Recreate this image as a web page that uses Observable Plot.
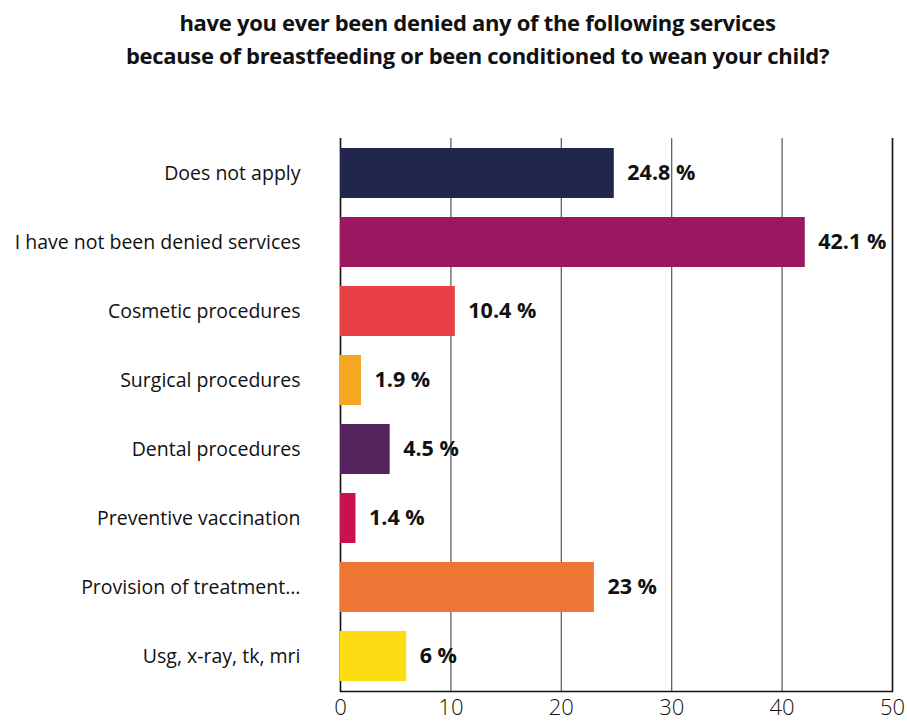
<!DOCTYPE html>
<html>
<head>
<meta charset="utf-8">
<script src="https://cdn.jsdelivr.net/npm/d3@7"></script>
<script src="https://cdn.jsdelivr.net/npm/@observablehq/plot@0.6"></script>
<style>
  html, body { margin: 0; padding: 0; background: #fff; }
  #wrap { width: 907px; position: relative; }
  #title {
    height: 80px; box-sizing: border-box; padding-top: 6px; padding-left: 48px;
    text-align: center; font-family: "Open Sans", sans-serif; font-weight: 700;
    font-size: 22px; line-height: 33px; color: #111; letter-spacing: -0.3px;
  }
</style>
</head>
<body>
<div id="wrap">
  <div id="title">have you ever been denied any of the following services<br>because of breastfeeding or been conditioned to wean your child?</div>
  <div id="chart"></div>
</div>
<script>
const categories = [
  "Does not apply",
  "I have not been denied services",
  "Cosmetic procedures",
  "Surgical procedures",
  "Dental procedures",
  "Preventive vaccination",
  "Provision of treatment...",
  "Usg, x-ray, tk, mri"
];
const values = [24.8, 42.1, 10.4, 1.9, 4.5, 1.4, 23, 6];
const valueLabels = ["24.8 %", "42.1 %", "10.4 %", "1.9 %", "4.5 %", "1.4 %", "23 %", "6 %"];
const colors = ["#22264d", "#9b1860", "#e83e45", "#f5a623", "#55245e", "#c8124f", "#ef7535", "#fddc13"];
const xTicks = [0, 10, 20, 30, 40, 50];

const data = categories.map((c, i) => ({category: c, value: values[i], label: valueLabels[i], color: colors[i]}));

const chart = Plot.plot({
  width: 907,
  height: 642,
  marginTop: 58,
  marginBottom: 31,
  marginLeft: 340,
  marginRight: 15,
  style: {fontFamily: "'Open Sans', sans-serif", background: "#fff"},
  x: {domain: [0, 50], ticks: xTicks, label: null},
  y: {domain: categories, paddingInner: 0.28, paddingOuter: 0.14, label: null},
  marks: [
    Plot.ruleX(xTicks, {stroke: "#555", strokeWidth: 1.2}),
    Plot.ruleX([0, 50], {stroke: "#111", strokeWidth: 1.5}),
    Plot.barX(data, {y: "category", x: "value", fill: d => d.color}),
    Plot.text(data, {y: "category", x: "value", text: "label", textAnchor: "start", dx: 13, fontWeight: 700, fontSize: 21.5, fill: "#111"}),
    Plot.frame({anchor: "bottom", stroke: "#111", strokeWidth: 1.5}),
    Plot.axisX({ticks: xTicks, tickSize: 0, tickPadding: 8, fontSize: 22, fontWeight: 300, tickFormat: d => d, fill: "#111"}),
    Plot.axisY({tickSize: 0, tickPadding: 40, fontSize: 19.5, fill: "#111"})
  ]
});
document.getElementById("chart").appendChild(chart);
</script>
</body>
</html>
